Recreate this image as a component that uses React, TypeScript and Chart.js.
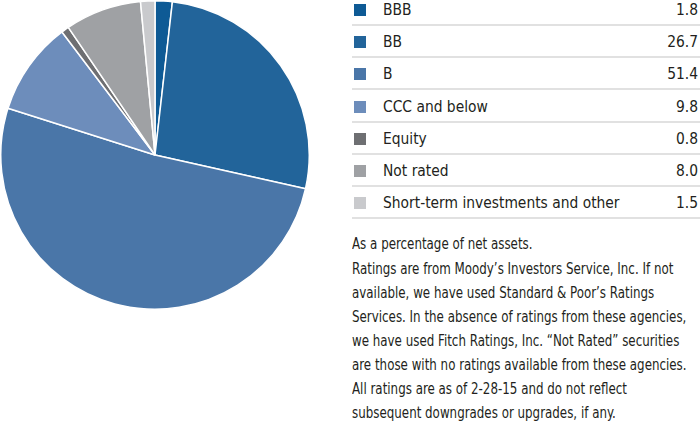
import React, { useEffect, useRef } from "react";
import { Chart, registerables } from "chart.js";

Chart.register(...registerables);

const categories = [
  "BBB",
  "BB",
  "B",
  "CCC and below",
  "Equity",
  "Not rated",
  "Short-term investments and other",
];
const values = [1.8, 26.7, 51.4, 9.8, 0.8, 8.0, 1.5];
const valueLabels = ["1.8", "26.7", "51.4", "9.8", "0.8", "8.0", "1.5"];
const colors = [
  "#0e5a95",
  "#22649a",
  "#4a76a8",
  "#6d8dbb",
  "#6e6f72",
  "#9fa1a4",
  "#c9cacd",
];
const noteFirst = "As a percentage of net assets.";
const noteLines = [
  "Ratings are from Moody\u2019s Investors Service, Inc. If not",
  "available, we have used Standard & Poor\u2019s Ratings",
  "Services. In the absence of ratings from these agencies,",
  "we have used Fitch Ratings, Inc. \u201cNot Rated\u201d securities",
  "are those with no ratings available from these agencies.",
  "All ratings are as of 2-28-15 and do not reflect",
  "subsequent downgrades or upgrades, if any.",
];

const FONT = "'DejaVu Sans Condensed', 'Liberation Sans Narrow', 'Liberation Sans', sans-serif";
const TEXT = "#231f20";
const NOTE_SCALE = 0.88;

function NoteLine({ text }: { text: string }) {
  return (
    <div style={{ height: 24, whiteSpace: "nowrap" }}>
      <span
        style={{
          display: "inline-block",
          transform: `scaleX(${NOTE_SCALE})`,
          transformOrigin: "left center",
        }}
      >
        {text}
      </span>
    </div>
  );
}

export default function App() {
  const ref = useRef<HTMLCanvasElement | null>(null);

  useEffect(() => {
    document.body.style.margin = "0";
    if (!ref.current) return;
    const chart = new Chart(ref.current, {
      type: "pie",
      data: {
        labels: categories,
        datasets: [
          {
            data: values,
            backgroundColor: colors,
            borderColor: "#ffffff",
            borderWidth: 1.5,
          },
        ],
      },
      options: {
        animation: false,
        responsive: true,
        maintainAspectRatio: false,
        layout: { padding: 0 },
        plugins: {
          legend: { display: false },
          tooltip: { enabled: false },
        },
      },
    });
    return () => chart.destroy();
  }, []);

  return (
    <div
      style={{
        position: "relative",
        width: 700,
        height: 427,
        background: "#ffffff",
        fontFamily: FONT,
        color: TEXT,
        overflow: "hidden",
      }}
    >
      <div style={{ position: "absolute", left: 0, top: 0, width: 310, height: 310 }}>
        <canvas ref={ref} />
      </div>
      {categories.map((c, i) => (
        <div
          key={c}
          style={{
            position: "absolute",
            left: 352,
            width: 348,
            top: -4 + i * 32.2,
            height: 28,
            borderBottom: "2px solid #e1e1e1",
            display: "flex",
            alignItems: "center",
            fontSize: 15.4,
          }}
        >
          <div
            style={{
              width: 12,
              height: 12,
              marginLeft: 2,
              background: colors[i],
              flex: "none",
            }}
          />
          <div style={{ marginLeft: 17, flex: 1, whiteSpace: "nowrap" }}>{c}</div>
          <div style={{ marginRight: 2, whiteSpace: "nowrap" }}>{valueLabels[i]}</div>
        </div>
      ))}
      <div
        style={{
          position: "absolute",
          left: 352,
          top: 232,
          fontSize: 15,
          lineHeight: "24px",
        }}
      >
        <NoteLine text={noteFirst} />
      </div>
      <div
        style={{
          position: "absolute",
          left: 352,
          top: 257,
          fontSize: 15,
          lineHeight: "24px",
        }}
      >
        {noteLines.map((l, i) => (
          <NoteLine key={i} text={l} />
        ))}
      </div>
    </div>
  );
}
